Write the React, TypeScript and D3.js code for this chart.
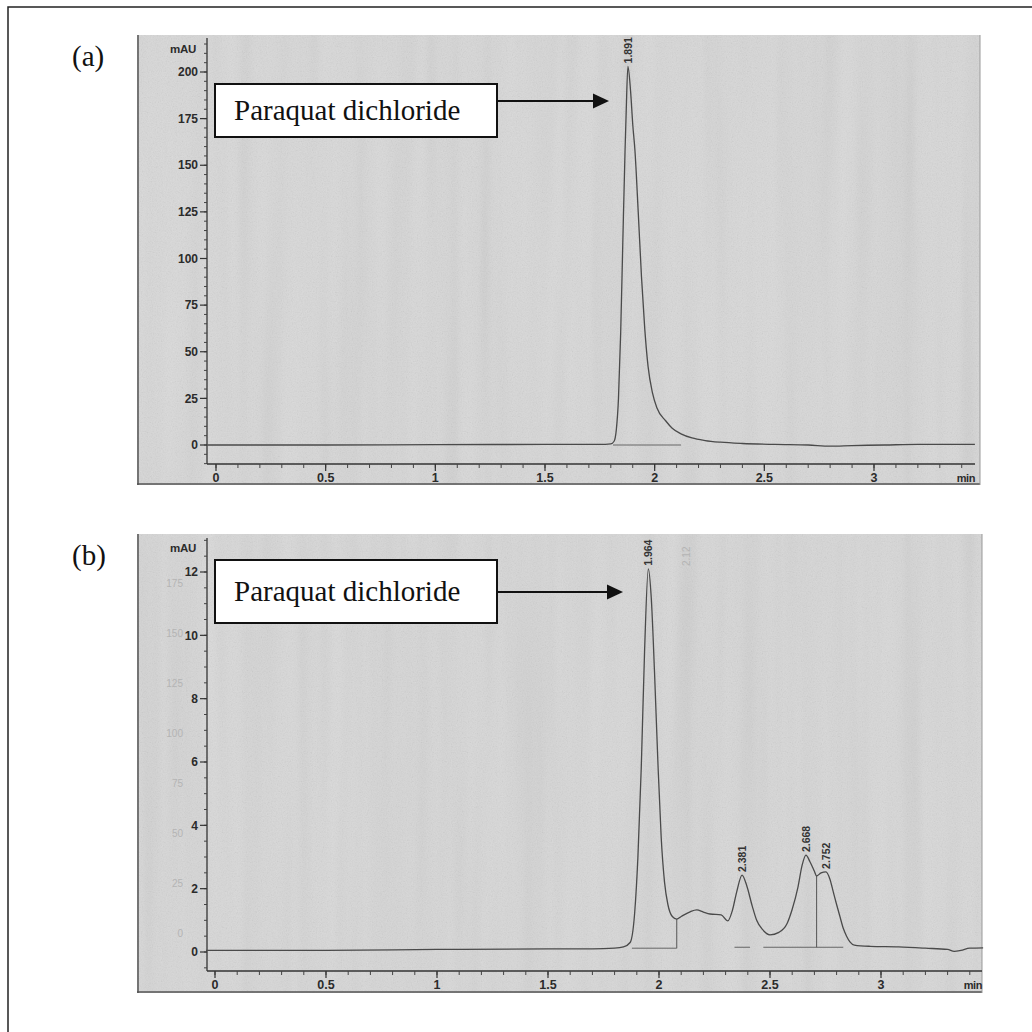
import React from 'react'
import * as d3 from 'd3'

// retention time axis (min)
const xTickValues = [0, 0.5, 1, 1.5, 2, 2.5, 3]
const xTickLabels = ['0', '0.5', '1', '1.5', '2', '2.5', '3']

// absorbance axis (mAU)
const yTicksA = [0, 25, 50, 75, 100, 125, 150, 175, 200]
const yTicksB = [0, 2, 4, 6, 8, 10, 12]

// chromatogram (a): standard
const traceATime = [-0.04, 0.5, 1.0, 1.5, 1.75, 1.8, 1.815, 1.825, 1.835, 1.845, 1.855, 1.865, 1.87, 1.878, 1.89, 1.9, 1.91, 1.925, 1.94, 1.955, 1.97, 1.99, 2.01, 2.05, 2.08, 2.12, 2.17, 2.23, 2.3, 2.4, 2.55, 2.7, 2.8, 2.9, 3.05, 3.2, 3.46]
const traceAValue = [0, 0, 0.2, 0.3, 0.3, 0.6, 2, 8, 25, 60, 110, 158, 178, 203, 190, 172, 158, 125, 90, 62, 42, 28, 20, 13, 9, 6, 3.8, 2.4, 1.5, 0.8, 0.3, 0, -0.6, -0.3, 0, 0.3, 0.3]

// chromatogram (b): sample
const traceBTime = [-0.04, 0.5, 1.0, 1.5, 1.7, 1.8, 1.84, 1.87, 1.89, 1.905, 1.92, 1.935, 1.952, 1.965, 1.98, 1.995, 2.01, 2.025, 2.04, 2.06, 2.08, 2.1, 2.14, 2.17, 2.2, 2.23, 2.28, 2.31, 2.33, 2.35, 2.374, 2.395, 2.42, 2.44, 2.465, 2.5, 2.54, 2.577, 2.6, 2.626, 2.645, 2.662, 2.68, 2.7, 2.71, 2.73, 2.752, 2.77, 2.785, 2.8, 2.815, 2.83, 2.845, 2.86, 2.88, 2.95, 3.08, 3.2, 3.3, 3.33, 3.36, 3.4, 3.46]
const traceBValue = [0.05, 0.05, 0.08, 0.1, 0.1, 0.12, 0.16, 0.3, 1.2, 3, 5.8, 9.5, 12.1, 11.2, 8.8, 6, 3.6, 2.2, 1.5, 1.12, 1.04, 1.12, 1.27, 1.33, 1.26, 1.2, 1.17, 0.98, 1.3, 1.9, 2.43, 2.1, 1.45, 1.0, 0.72, 0.54, 0.62, 0.9, 1.35, 2.05, 2.75, 3.06, 2.85, 2.55, 2.4, 2.5, 2.53, 2.3, 1.9, 1.5, 1.12, 0.75, 0.5, 0.32, 0.22, 0.18, 0.16, 0.12, 0.08, 0.02, 0.05, 0.12, 0.13]

// peak labels
const peakLabelsA = ['1.891']
const peakTimesA = [1.878]
const peakHeightsA = [203]
const peakLabelsB = ['1.964', '2.381', '2.668', '2.752']
const peakTimesB = [1.952, 2.374, 2.662, 2.752]
const peakHeightsB = [12.1, 2.43, 3.06, 2.53]

// integration baselines [start, end, level]
const baselinesA = [[1.81, 2.12, 0]]
const baselinesB = [[1.878, 2.08, 0.12], [2.34, 2.41, 0.15], [2.47, 2.83, 0.15]]
const dropLinesB = [[2.08, 0.12, 1.04], [2.71, 0.15, 2.4]]

// faint bleed-through numbers on the scan of (b)
const ghostTicksB = [0, 25, 50, 75, 100, 125, 150, 175]

const compound = 'Paraquat dichloride'

const sans = 'Liberation Sans, Arial, sans-serif'
const serif = 'Liberation Serif, Times New Roman, serif'

const Panel = ({ cfg, times, values, peakLabels, peakTimes, peakHeights, yTicks, minorStep, baselines, drops, ghosts, letter }) => {
  const x = d3.scaleLinear().domain([0, 3]).range(cfg.xRange)
  const y = d3.scaleLinear().domain(cfg.yDomain).range(cfg.yRange)
  const pts = times.map((t, i) => [t, values[i]])
  const line = d3.line().x(d => x(d[0])).y(d => y(d[1])).curve(d3.curveMonotoneX)

  const yMin = y.invert(cfg.axisBottom)
  const yMax = y.invert(cfg.axisTop)
  const minorY = d3.range(Math.ceil(yMin / minorStep) * minorStep, yMax, minorStep)
  const minorX = d3.range(0, x.invert(cfg.axisRight), 0.1)
  const ghostY = d3.scaleLinear().domain([0, 175]).range(cfg.ghostRange)

  return (
    <g>
      <text x={72} y={cfg.letterY} fontFamily={serif} fontSize={29} fill="#111">{letter}</text>
      <rect x={cfg.frame[0]} y={cfg.frame[1]} width={cfg.frame[2] - cfg.frame[0]} height={cfg.frame[3] - cfg.frame[1]} fill="#d9d9d9" />
      <rect x={cfg.frame[0]} y={cfg.frame[1]} width={cfg.frame[2] - cfg.frame[0]} height={cfg.frame[3] - cfg.frame[1]} fill="#808080" filter="url(#grain)" opacity={0.22} />
      <rect x={cfg.frame[0]} y={cfg.frame[1]} width={cfg.frame[2] - cfg.frame[0]} height={cfg.frame[3] - cfg.frame[1]} fill="#808080" filter="url(#streak)" opacity={0.16} />
      <line x1={cfg.frame[0] + 1} x2={cfg.frame[0] + 1} y1={cfg.frame[1]} y2={cfg.frame[3]} stroke="#555" strokeWidth={1.5} />
      <line x1={cfg.frame[0]} x2={cfg.frame[2]} y1={cfg.frame[3] - 1} y2={cfg.frame[3] - 1} stroke="#555" strokeWidth={1.5} />
      <line x1={cfg.frame[2]} x2={cfg.frame[2]} y1={cfg.frame[1]} y2={cfg.frame[3]} stroke="#999" strokeWidth={1} />

      {ghosts && ghosts.map(g => (
        <text key={'g' + g} x={183} y={ghostY(g)} dy="0.35em" textAnchor="end" fontFamily={sans} fontSize={10} fill="#b4b4b4">{g}</text>
      ))}

      {/* y axis */}
      <line x1={cfg.axisX} x2={cfg.axisX} y1={cfg.axisTop} y2={cfg.axisBottom} stroke="#333" strokeWidth={1.3} />
      {minorY.map(v => (
        <line key={'my' + v} x1={cfg.axisX - 3} x2={cfg.axisX} y1={y(v)} y2={y(v)} stroke="#444" strokeWidth={1} />
      ))}
      {yTicks.map(v => (
        <g key={'y' + v}>
          <line x1={cfg.axisX - 7} x2={cfg.axisX} y1={y(v)} y2={y(v)} stroke="#333" strokeWidth={1.2} />
          <text x={cfg.axisX - 9} y={y(v)} dy="0.35em" textAnchor="end" fontFamily={sans} fontWeight="bold" fontSize={12} fill="#2b2b2b">{v}</text>
        </g>
      ))}
      <text x={cfg.axisX - 11} y={cfg.mauY} dy="0.35em" textAnchor="end" fontFamily={sans} fontWeight="bold" fontSize={11.5} fill="#2b2b2b" letterSpacing={-0.3}>mAU</text>

      {/* x axis */}
      <line x1={cfg.axisX} x2={cfg.axisRight} y1={cfg.axisBottom} y2={cfg.axisBottom} stroke="#333" strokeWidth={1.3} />
      {minorX.map(v => (
        <line key={'mx' + v} x1={x(v)} x2={x(v)} y1={cfg.axisBottom} y2={cfg.axisBottom + 4} stroke="#444" strokeWidth={1} />
      ))}
      {xTickValues.map((v, i) => (
        <g key={'x' + v}>
          <line x1={x(v)} x2={x(v)} y1={cfg.axisBottom} y2={cfg.axisBottom + 7} stroke="#333" strokeWidth={1.2} />
          <text x={x(v)} y={cfg.axisBottom + 14} dy="0.35em" textAnchor="middle" fontFamily={sans} fontWeight="bold" fontSize={12.5} fill="#2b2b2b">{xTickLabels[i]}</text>
        </g>
      ))}
      <text x={cfg.axisRight} y={cfg.axisBottom + 14} dy="0.35em" textAnchor="end" fontFamily={sans} fontWeight="bold" fontSize={11} fill="#2b2b2b" letterSpacing={-0.4}>min</text>

      {/* integration marks */}
      {baselines.map((b, i) => (
        <line key={'b' + i} x1={x(b[0])} x2={x(b[1])} y1={y(b[2])} y2={y(b[2])} stroke="#666" strokeWidth={1} />
      ))}
      {drops.map((d, i) => (
        <line key={'d' + i} x1={x(d[0])} x2={x(d[0])} y1={y(d[1])} y2={y(d[2])} stroke="#555" strokeWidth={1} />
      ))}

      {/* trace */}
      <path d={line(pts)} fill="none" stroke="#4a4a4a" strokeWidth={1.3} />

      {peakLabels.map((l, i) => (
        <text key={'p' + l} transform={`translate(${x(peakTimes[i]) + 4},${y(peakHeights[i]) - 3}) rotate(-90)`} fontFamily={sans} fontWeight="bold" fontSize={10.5} fill="#333">{l}</text>
      ))}

      {/* annotation */}
      <rect x={cfg.box[0]} y={cfg.box[1]} width={cfg.box[2] - cfg.box[0]} height={cfg.box[3] - cfg.box[1]} fill="#fff" stroke="#111" strokeWidth={2} />
      <text x={cfg.box[0] + 19} y={(cfg.box[1] + cfg.box[3]) / 2} dy="0.33em" fontFamily={serif} fontSize={29} fill="#111">{compound}</text>
      <line x1={cfg.box[2]} x2={cfg.arrowTip - 14} y1={cfg.arrowY} y2={cfg.arrowY} stroke="#111" strokeWidth={2.2} />
      <path d={`M${cfg.arrowTip},${cfg.arrowY} L${cfg.arrowTip - 16},${cfg.arrowY - 7.5} L${cfg.arrowTip - 16},${cfg.arrowY + 7.5} Z`} fill="#111" />
    </g>
  )
}

const cfgA = {
  frame: [137, 35, 980, 485],
  xRange: [216, 874],
  yDomain: [0, 200],
  yRange: [445, 72],
  axisX: 207,
  axisTop: 38,
  axisBottom: 464,
  axisRight: 975,
  mauY: 49,
  letterY: 66,
  ghostRange: [0, 0],
  box: [215, 84, 497, 137],
  arrowY: 101,
  arrowTip: 609,
}

const cfgB = {
  frame: [137, 534, 982, 993],
  xRange: [215, 881],
  yDomain: [0, 12],
  yRange: [952, 572],
  axisX: 207,
  axisTop: 538,
  axisBottom: 971,
  axisRight: 982,
  mauY: 548,
  letterY: 565,
  ghostRange: [933, 583],
  box: [215, 560, 497, 623],
  arrowY: 592,
  arrowTip: 623,
}

const App = () => {
  const xB = d3.scaleLinear().domain([0, 3]).range(cfgB.xRange)
  return (
    <svg width={1032} height={1032} style={{ position: 'absolute', left: 0, top: 0, background: '#fff' }}>
      <defs>
        <filter id="grain" x="0" y="0" width="100%" height="100%">
          <feTurbulence type="fractalNoise" baseFrequency="0.8" numOctaves={2} seed={4} />
          <feColorMatrix type="saturate" values="0" />
        </filter>
        <filter id="streak" x="0" y="0" width="100%" height="100%">
          <feTurbulence type="fractalNoise" baseFrequency="0.05 0.002" numOctaves={2} seed={7} />
          <feColorMatrix type="saturate" values="0" />
        </filter>
      </defs>
      <rect x={8} y={7} width={1040} height={1040} fill="none" stroke="#222" strokeWidth={1.5} />

      <Panel cfg={cfgA} times={traceATime} values={traceAValue} peakLabels={peakLabelsA} peakTimes={peakTimesA} peakHeights={peakHeightsA}
        yTicks={yTicksA} minorStep={5} baselines={baselinesA} drops={[]} ghosts={null} letter="(a)" />
      <Panel cfg={cfgB} times={traceBTime} values={traceBValue} peakLabels={peakLabelsB} peakTimes={peakTimesB} peakHeights={peakHeightsB}
        yTicks={yTicksB} minorStep={0.5} baselines={baselinesB} drops={dropLinesB} ghosts={ghostTicksB} letter="(b)" />

      <text transform={`translate(${xB(2.12) + 4},${566}) rotate(-90)`} fontFamily={sans} fontSize={10} fill="#b4b4b4">2.12</text>
    </svg>
  )
}

export default App
